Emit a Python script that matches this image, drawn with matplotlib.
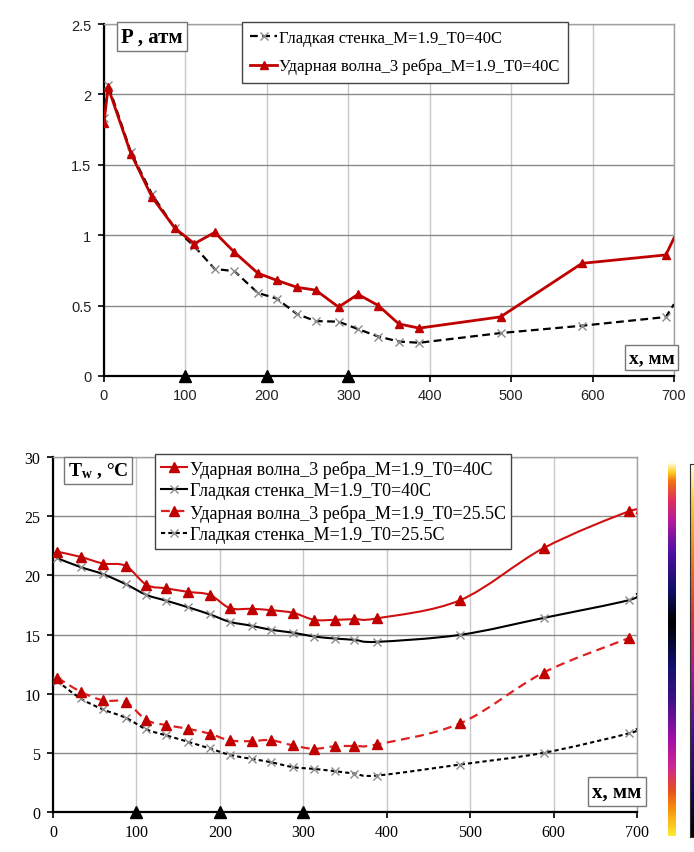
import numpy as np
import matplotlib
matplotlib.use('Agg')
import matplotlib.pyplot as plt
from matplotlib.path import Path
from matplotlib.patches import PathPatch
from matplotlib.lines import Line2D
from matplotlib.colors import LinearSegmentedColormap

plt.rcParams['mathtext.fontset'] = 'custom'
plt.rcParams['mathtext.rm'] = 'Liberation Serif'
plt.rcParams['mathtext.bf'] = 'Liberation Serif:bold'

# Pressure chart (top)
p_x = [0, 5, 33, 59, 87, 111, 136, 160, 189, 212, 237, 260, 288, 312, 337, 362, 387, 487, 587, 690, 700]
p_ribs = [1.80, 2.05, 1.58, 1.27, 1.05, 0.94, 1.02, 0.88, 0.73, 0.68, 0.63, 0.61, 0.49, 0.58, 0.50,
          0.37, 0.34, 0.42, 0.80, 0.86, 0.98]
p_smooth = [1.83, 2.07, 1.59, 1.29, 1.05, 0.92, 0.76, 0.745, 0.59, 0.55, 0.44, 0.39, 0.386, 0.333,
            0.28, 0.245, 0.236, 0.305, 0.357, 0.419, 0.51]
lab_p_smooth = 'Гладкая стенка_M=1.9_T0=40C'
lab_p_ribs = 'Ударная волна_3 ребра_M=1.9_T0=40C'

# Wall temperature chart (bottom)
t_x = [5, 33, 60, 87, 112, 136, 162, 188, 212, 238, 261, 288, 313, 338, 361, 388, 488, 588, 690]
t_x_edge = 700
t_ribs40 = [22.0, 21.56, 21.0, 20.8, 19.2, 18.9, 18.6, 18.35, 17.23, 17.17, 17.06, 16.83, 16.24,
            16.24, 16.3, 16.36, 17.9, 22.3, 25.4]
t_ribs40_edge = 25.2
t_smooth40 = [21.45, 20.7, 20.1, 19.26, 18.35, 17.85, 17.3, 16.7, 16.07, 15.74, 15.4, 15.15, 14.83,
              14.66, 14.55, 14.38, 14.97, 16.4, 17.9]
t_smooth40_edge = 18.47
t_ribs25 = [11.36, 10.17, 9.43, 9.29, 7.77, 7.34, 7.03, 6.61, 6.05, 5.99, 6.07, 5.62, 5.34, 5.56,
            5.59, 5.71, 7.49, 11.78, 14.69]
t_smooth25 = [11.07, 9.6, 8.67, 7.97, 6.98, 6.47, 5.93, 5.37, 4.83, 4.49, 4.21, 3.79, 3.64, 3.45,
              3.25, 3.08, 4.01, 5.0, 6.64]
t_smooth25_edge = 7.03
t_labels = ['Ударная волна_3 ребра_M=1.9_T0=40C', 'Гладкая стенка_M=1.9_T0=40C',
            'Ударная волна_3 ребра_M=1.9_T0=25.5C', 'Гладкая стенка_M=1.9_T0=25.5C']

rib_pos = [100, 200, 300]

RED = '#c00000'
GRAY_X = '#8c8c8c'
SERIF = 'Liberation Serif'
SANS = 'Liberation Sans'


def smooth_path(xs, ys):
    # excel-like smoothed line through the points (cubic bezier)
    pts = np.column_stack([xs, ys]).astype(float)
    n = len(pts)
    verts = [pts[0]]
    codes = [Path.MOVETO]
    for i in range(n - 1):
        p0 = pts[i - 1] if i > 0 else pts[i]
        p1 = pts[i]
        p2 = pts[i + 1]
        p3 = pts[i + 2] if i + 2 < n else pts[i + 1]
        verts += [p1 + (p2 - p0) / 6.0, p2 - (p3 - p1) / 6.0, p2]
        codes += [Path.CURVE4] * 3
    return Path(verts, codes)


def style_axes(ax, ymax, ystep, tickfont, tsize):
    ax.set_xlim(0, 700)
    ax.set_ylim(0, ymax)
    ax.set_xticks(range(0, 701, 100))
    ax.set_yticks(np.arange(0, ymax + 0.001, ystep))
    ax.yaxis.set_major_formatter(plt.FormatStrFormatter('%g'))
    ax.xaxis.grid(True, color='#c8c8c8', lw=1.0)
    ax.yaxis.grid(True, color='#8a8a8a', lw=1.0)
    ax.set_axisbelow(True)
    for s in ['top', 'right']:
        ax.spines[s].set_color('#a0a0a0')
        ax.spines[s].set_linewidth(1.0)
    for s in ['left', 'bottom']:
        ax.spines[s].set_color('black')
        ax.spines[s].set_linewidth(1.6)
    ax.tick_params(direction='out', length=4, width=1.2, color='black', pad=5)
    for lab in ax.get_xticklabels() + ax.get_yticklabels():
        lab.set_family(tickfont)
        lab.set_fontsize(tsize)
    ax.plot(rib_pos, [0] * len(rib_pos), '^', color='black', ms=8, clip_on=False, zorder=10)


fig = plt.figure(figsize=(6.94, 8.53), dpi=100)

# ---- top: pressure ----
ax1 = fig.add_axes([104 / 694, 1 - 377 / 853, 570 / 694, 352 / 853])
style_axes(ax1, 2.5, 0.5, SANS, 10.5)
for lab in ax1.get_xticklabels() + ax1.get_yticklabels():
    lab.set_color('#222222')
ax1.plot(p_x, p_smooth, color='black', lw=1.6, ls=(0, (3.5, 2)),
         marker='x', ms=6, mec=GRAY_X, mew=1, markevery=slice(0, -1), label=lab_p_smooth, zorder=3)
ax1.plot(p_x, p_ribs, color=RED, lw=2.0, marker='^', ms=6, markevery=slice(0, -1),
         label=lab_p_ribs, zorder=4)
leg1 = ax1.legend(loc='upper left', bbox_to_anchor=(0.242, 1.006), borderaxespad=0,
                  prop={'family': SERIF, 'size': 12}, frameon=True, fancybox=False,
                  edgecolor='#444444', framealpha=1, handlelength=1.6, handletextpad=0.15,
                  labelspacing=0.7, borderpad=0.5)
leg1.get_frame().set_linewidth(1.0)
ax1.text(0.03, 0.993, 'P , атм', transform=ax1.transAxes, ha='left', va='top',
         family=SERIF, fontweight='bold', fontsize=15,
         bbox=dict(boxstyle='square,pad=0.2', fc='white', ec='#777777', lw=1))
ax1.text(1.001, 0.028, 'x, мм', transform=ax1.transAxes, ha='right', va='bottom',
         family=SERIF, fontweight='bold', fontsize=14,
         bbox=dict(boxstyle='square,pad=0.2', fc='white', ec='#777777', lw=1))

# ---- bottom: wall temperature ----
ax2 = fig.add_axes([53 / 694, 1 - 813 / 853, 584 / 694, 355 / 853])
style_axes(ax2, 30, 5, SERIF, 11.5)

ax2.add_patch(PathPatch(smooth_path(t_x + [t_x_edge], t_smooth25 + [t_smooth25_edge]), fill=False,
                        ec='black', lw=1.5, ls=(0, (2, 1.5)), zorder=3))
ax2.add_patch(PathPatch(smooth_path(t_x, t_ribs25), fill=False, ec='#e02020', lw=1.6,
                        ls=(0, (4, 2.5)), zorder=3))
ax2.add_patch(PathPatch(smooth_path(t_x + [t_x_edge], t_smooth40 + [t_smooth40_edge]), fill=False,
                        ec='black', lw=1.5, zorder=3))
ax2.add_patch(PathPatch(smooth_path(t_x + [t_x_edge], t_ribs40 + [t_ribs40_edge]), fill=False,
                        ec='#d01010', lw=1.5, zorder=3))
ax2.plot(t_x, t_smooth25, 'x', ms=6, mec=GRAY_X, mew=1, zorder=4)
ax2.plot(t_x, t_smooth40, 'x', ms=6, mec=GRAY_X, mew=1, zorder=4)
ax2.plot(t_x, t_ribs25, '^', ms=7, color=RED, zorder=5)
ax2.plot(t_x, t_ribs40, '^', ms=7, color=RED, zorder=5)

handles = [
    Line2D([], [], color='#d01010', lw=1.5, marker='^', ms=7, mfc=RED, mec=RED),
    Line2D([], [], color='black', lw=1.5, marker='x', ms=6, mec=GRAY_X),
    Line2D([], [], color='#e02020', lw=1.6, ls=(0, (4, 2.5)), marker='^', ms=7, mfc=RED, mec=RED),
    Line2D([], [], color='black', lw=1.5, ls=(0, (2, 1.5)), marker='x', ms=6, mec=GRAY_X),
]
leg2 = ax2.legend(handles, t_labels, loc='upper left', bbox_to_anchor=(0.175, 1.008), borderaxespad=0,
                  prop={'family': SERIF, 'size': 13}, frameon=True, fancybox=False,
                  edgecolor='#444444', framealpha=1, handlelength=1.45, handletextpad=0.15,
                  labelspacing=0.25, borderpad=0.3)
leg2.get_frame().set_linewidth(1.0)
ax2.text(0.025, 0.99, r'$\mathbf{T_w}$ , °C', transform=ax2.transAxes, ha='left', va='top',
         family=SERIF, fontweight='bold', fontsize=14,
         bbox=dict(boxstyle='square,pad=0.2', fc='white', ec='#777777', lw=1))
ax2.text(1.008, 0.03, 'x, мм', transform=ax2.transAxes, ha='right', va='bottom',
         family=SERIF, fontweight='bold', fontsize=15,
         bbox=dict(boxstyle='square,pad=0.2', fc='white', ec='#777777', lw=1))

# ---- colour strips at the right edge ----
strip1 = LinearSegmentedColormap.from_list('strip1', [
    (0.0, '#ffe830'), (0.06, '#f8a010'), (0.12, '#e85018'), (0.18, '#d02890'),
    (0.26, '#a010a8'), (0.36, '#40108a'), (0.46, '#10106a'), (0.57, '#000000'),
    (0.66, '#10106a'), (0.76, '#5010a0'), (0.84, '#b018a0'), (0.9, '#e03060'),
    (0.95, '#f07010'), (0.975, '#ffd020'), (1.0, '#fffff0')])
strip2 = LinearSegmentedColormap.from_list('strip2', [
    (0.0, '#000000'), (0.12, '#100860'), (0.3, '#5010a0'), (0.45, '#b01890'),
    (0.6, '#e03838'), (0.75, '#f08010'), (0.9, '#f8d030'), (1.0, '#fffff0')])
grad = np.linspace(0, 1, 256).reshape(-1, 1)
cax1 = fig.add_axes([668 / 694, 1 - 837 / 853, 8 / 694, 374 / 853])
cax1.imshow(grad, aspect='auto', origin='lower', cmap=strip1)
cax1.axis('off')
cax2 = fig.add_axes([690 / 694, 1 - 838 / 853, 8 / 694, 373 / 853])
cax2.imshow(grad, aspect='auto', origin='lower', cmap=strip2)
cax2.set_xticks([])
cax2.set_yticks([])
for s in cax2.spines.values():
    s.set_color('#333333')

fig.savefig('out.png', dpi=100)
